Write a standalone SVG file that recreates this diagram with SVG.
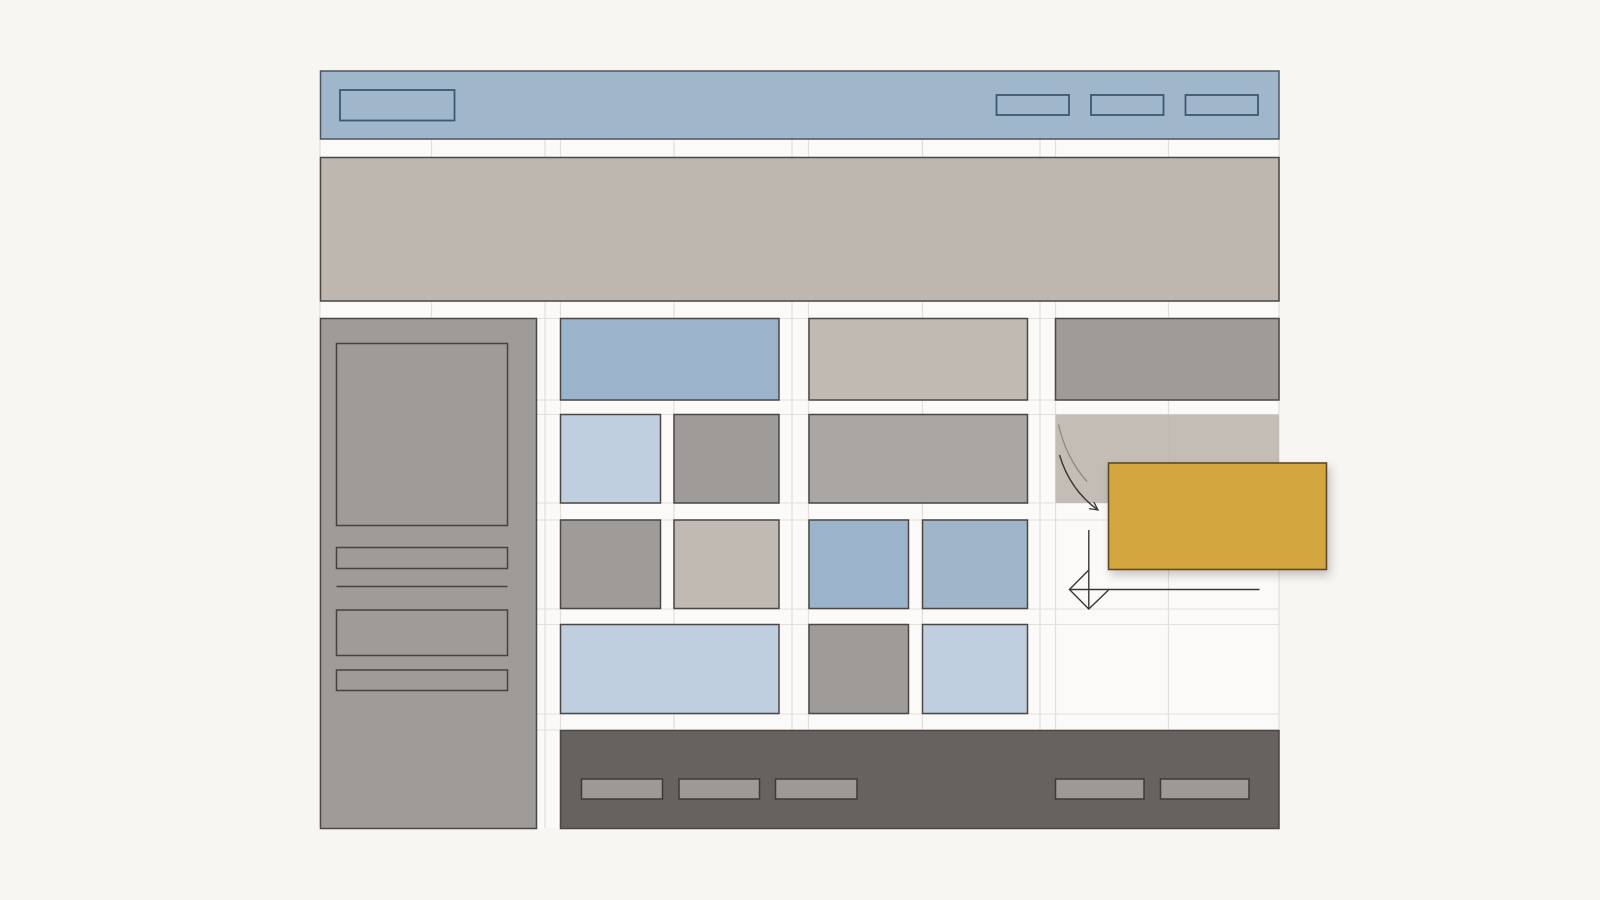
<svg xmlns="http://www.w3.org/2000/svg" width="1600" height="900" viewBox="0 0 1600 900">
  <defs>
    <style>
      .tile { stroke: #4a4745; stroke-width: 1.5; }
      .grid line { stroke: #e3e0db; stroke-width: 1.2; }
      .hdr { fill: #9fb6cb; stroke: #4d5560; stroke-width: 1.5; }
      .navbtn { fill: #a0b6cb; stroke: #3f5872; stroke-width: 1.8; }
      .blue { fill: #9bb4cb; }
      .lblue { fill: #bfcfe0; }
      .grey { fill: #9f9b99; }
      .beige { fill: #c1bab3; }
      .mgrey { fill: #a9a6a3; }
      .inner { fill: none; stroke: #45423f; stroke-width: 1.5; }
      .fbtn { fill: #9d9997; stroke: #3e3a37; stroke-width: 1.5; }
      .conn { fill: none; stroke: #3a3836; stroke-width: 1.4; }
    </style>
    <marker id="arr" viewBox="0 0 10 10" refX="9" refY="5" markerWidth="10" markerHeight="10" markerUnits="userSpaceOnUse" orient="auto">
      <path d="M1,1 L9,5 L1,9" fill="none" stroke="#3a3836" stroke-width="1.3"/>
    </marker>
    <filter id="shadow" x="-20%" y="-20%" width="150%" height="160%">
      <feDropShadow dx="3" dy="5" stdDeviation="5" flood-color="#000" flood-opacity="0.22"/>
    </filter>
  </defs>

  <rect width="1600" height="900" fill="#f8f6f3"/>

  <!-- layout grid -->
  <g class="grid" id="grid">
    <rect x="320" y="139" width="959" height="689" fill="#fbfaf8"/>
    <line x1="320" y1="139" x2="1279" y2="139"/>
    <line x1="320" y1="157.5" x2="1279" y2="157.5"/>
    <line x1="320" y1="301" x2="1279" y2="301"/>
    <line x1="320" y1="318.5" x2="1279" y2="318.5"/>
    <line x1="320" y1="400" x2="1279" y2="400"/>
    <line x1="320" y1="414.5" x2="1279" y2="414.5"/>
    <line x1="320" y1="503" x2="1279" y2="503"/>
    <line x1="320" y1="520" x2="1279" y2="520"/>
    <line x1="320" y1="609" x2="1279" y2="609"/>
    <line x1="320" y1="624.5" x2="1279" y2="624.5"/>
    <line x1="320" y1="714" x2="1279" y2="714"/>
    <line x1="320" y1="730" x2="1279" y2="730"/>
    <line x1="320" y1="139" x2="320" y2="828"/>
    <line x1="431.5" y1="139" x2="431.5" y2="828"/>
    <line x1="545" y1="139" x2="545" y2="828"/>
    <line x1="560.5" y1="139" x2="560.5" y2="828"/>
    <line x1="674" y1="139" x2="674" y2="828"/>
    <line x1="792" y1="139" x2="792" y2="828"/>
    <line x1="808.5" y1="139" x2="808.5" y2="828"/>
    <line x1="922.5" y1="139" x2="922.5" y2="828"/>
    <line x1="1040" y1="139" x2="1040" y2="828"/>
    <line x1="1055.5" y1="139" x2="1055.5" y2="828"/>
    <line x1="1168.5" y1="139" x2="1168.5" y2="828"/>
    <line x1="1279" y1="139" x2="1279" y2="828"/>
  </g>

  <g id="header">
    <rect class="hdr" x="320.5" y="71" width="958.5" height="68"/>
    <rect class="navbtn" x="340" y="90" width="114.5" height="30.5"/>
    <rect class="navbtn" x="996.5" y="95" width="72.5" height="20"/>
    <rect class="navbtn" x="1091" y="95" width="72.5" height="20"/>
    <rect class="navbtn" x="1185.5" y="95" width="72.5" height="20"/>
  </g>

  <g id="hero">
    <rect class="tile" x="320.5" y="157.5" width="958.5" height="143.5" fill="#bdb7b0" stroke="#4f4d4b"/>
  </g>

  <g id="sidebar">
    <rect class="tile grey" x="320.5" y="318.5" width="216" height="510"/>
    <rect class="inner" x="336.5" y="343.5" width="171" height="182"/>
    <rect class="inner" x="336.5" y="547.5" width="171" height="21"/>
    <line x1="336.5" y1="586.5" x2="507.5" y2="586.5" stroke="#45423f" stroke-width="1.5"/>
    <rect class="inner" x="336.5" y="610" width="171" height="45.5"/>
    <rect class="inner" x="336.5" y="670" width="171" height="20.5"/>
  </g>

  <g id="tile-r1c1"><rect class="tile blue" x="560.5" y="318.5" width="218.5" height="81.5"/></g>
  <g id="tile-r1c2"><rect class="tile beige" x="809" y="318.5" width="218.5" height="81.5"/></g>
  <g id="tile-r1c3"><rect class="tile grey" x="1055.5" y="318.5" width="223.5" height="81.5"/></g>

  <g id="tile-r2c1a"><rect class="tile lblue" x="560.5" y="414.5" width="100" height="88.5"/></g>
  <g id="tile-r2c1b"><rect class="tile grey" x="674" y="414.5" width="105" height="88.5"/></g>
  <g id="tile-r2c2"><rect class="tile mgrey" x="809" y="414.5" width="218.5" height="88.5"/></g>
  <g id="tile-r2c3-ghost">
    <rect x="1055.5" y="414.5" width="223.5" height="88.5" fill="#bdb6ae" opacity="0.9"/>
  </g>

  <g id="tile-r3c1a"><rect class="tile grey" x="560.5" y="520" width="100" height="88.5"/></g>
  <g id="tile-r3c1b"><rect class="tile beige" x="674" y="520" width="105" height="88.5"/></g>
  <g id="tile-r3c2a"><rect class="tile blue" x="809" y="520" width="99.5" height="88.5"/></g>
  <g id="tile-r3c2b"><rect class="tile" fill="#9eb5ca" x="922.5" y="520" width="105" height="88.5"/></g>

  <g id="tile-r4c1"><rect class="tile lblue" x="560.5" y="624.5" width="218.5" height="89"/></g>
  <g id="tile-r4c2a"><rect class="tile grey" x="809" y="624.5" width="99.5" height="89"/></g>
  <g id="tile-r4c2b"><rect class="tile lblue" x="922.5" y="624.5" width="105" height="89"/></g>

  <g id="footer">
    <rect class="tile" fill="#67625e" stroke="#3e3a37" x="560.5" y="730.5" width="718.5" height="98"/>
    <rect class="fbtn" x="581.5" y="779" width="81" height="20"/>
    <rect class="fbtn" x="679" y="779" width="80.5" height="20"/>
    <rect class="fbtn" x="775.5" y="779" width="81.5" height="20"/>
    <rect class="fbtn" x="1055.5" y="779" width="88.5" height="20"/>
    <rect class="fbtn" x="1160.5" y="779" width="88.5" height="20"/>
  </g>

  <g id="connectors">
    <path d="M1058.5,424.5 Q1066,458 1087,481.5" fill="none" stroke="#8d8986" stroke-width="1.2"/>
    <path class="conn" d="M1059.5,455 Q1070,490 1098,510" marker-end="url(#arr)"/>
    <line class="conn" x1="1088.8" y1="530" x2="1088.8" y2="609"/>
    <line class="conn" x1="1069.5" y1="589.5" x2="1259.5" y2="589.5"/>
    <polyline class="conn" points="1088.8,570 1069.5,589.5 1088.8,609 1108.5,590"/>
  </g>

  <g id="dragged-card">
    <rect x="1108.5" y="463" width="218" height="106.5" fill="#d4a63f" stroke="#5b4a25" stroke-width="1.6" filter="url(#shadow)"/>
  </g>
</svg>
